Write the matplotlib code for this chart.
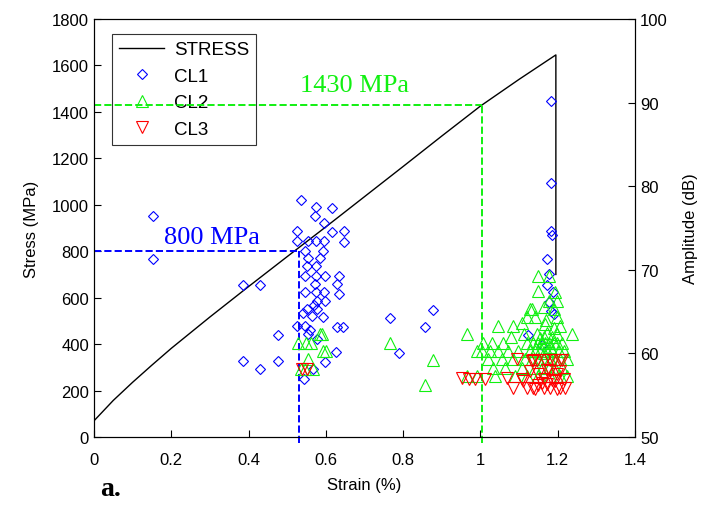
import matplotlib
matplotlib.use("Agg")
import matplotlib.pyplot as plt
from matplotlib.lines import Line2D

plt.rcParams['font.family'] = ['Liberation Sans', 'DejaVu Sans']
plt.rcParams['font.size'] = 12

# stress-strain curve (MPa vs %)
strain = [0, 0.05, 0.1, 0.15, 0.2, 0.3, 0.4, 0.5, 0.6, 0.7, 0.8, 0.9, 1.0, 1.1, 1.195, 1.195]
stress = [70, 158, 236, 310, 382, 517, 648, 777, 905, 1035, 1165, 1296, 1425, 1540, 1645, 700]

# AE hits per cluster: strain (%) and amplitude (dB)
cl1_x = [0.153, 0.153, 0.386, 0.430, 0.477, 0.386, 0.430, 0.477,
         0.535, 0.575, 0.615, 0.572, 0.595, 0.525, 0.525, 0.555, 0.575, 0.615,
         0.648, 0.648, 0.596, 0.546, 0.593, 0.555, 0.585, 0.552, 0.575, 0.546,
         0.575, 0.598, 0.635, 0.572, 0.628, 0.546, 0.575, 0.596, 0.635, 0.578,
         0.598, 0.550, 0.578, 0.563, 0.593, 0.525, 0.546, 0.628, 0.645, 0.555,
         0.576, 0.626, 0.598, 0.566, 0.543, 0.560, 0.568, 0.540,
         0.766, 0.790, 0.857, 0.876,
         1.182, 1.182, 1.183, 1.186, 1.171, 1.173, 1.187, 1.176, 1.182, 1.124,
         1.177, 1.189, 1.160]
cl1_y = [76.4, 71.3, 68.2, 68.2, 62.2, 59.1, 58.1, 59.1,
         78.4, 77.5, 77.4, 76.4, 75.6, 74.6, 73.5, 73.5, 73.4, 74.5,
         74.6, 73.3, 73.5, 72.3, 72.3, 71.4, 71.4, 70.4, 70.4, 69.3,
         69.3, 69.3, 69.3, 68.3, 68.3, 67.3, 67.3, 67.3, 67.1, 66.3,
         66.3, 65.3, 65.3, 64.5, 64.3, 63.3, 63.3, 63.2, 63.2, 62.3,
         61.7, 60.2, 59.0, 58.1, 56.9, 62.8, 65.8, 64.8,
         64.2, 60.1, 63.2, 65.2,
         90.2, 80.4, 74.6, 74.2, 71.3, 68.2, 67.3, 66.1, 65.1, 62.2,
         69.5, 64.7, 61.0]

cl2_x = [0.527, 0.549, 0.561, 0.584, 0.590, 0.592, 0.601, 0.555, 0.567, 0.546, 0.535,
         0.766, 0.876, 0.857, 0.965,
         1.046, 1.085, 1.120, 1.133, 1.107,
         1.007, 1.029, 1.059, 1.120,
         0.990, 1.003, 1.025, 1.046, 1.072, 1.098,
         1.020, 1.055, 1.085, 1.115,
         1.033, 1.064, 1.107,
         0.965, 0.990, 1.038, 1.090, 1.120, 1.112, 1.080,
         1.150, 1.176, 1.150, 1.193, 1.176, 1.197, 1.163, 1.189, 1.128, 1.197,
         1.141, 1.167, 1.206, 1.236, 1.146, 1.172, 1.197,
         1.137, 1.150, 1.159, 1.167, 1.176, 1.189, 1.197, 1.210,
         1.128, 1.141, 1.155, 1.172, 1.185, 1.202, 1.215,
         1.133, 1.150, 1.163, 1.180, 1.193, 1.206, 1.223,
         1.141, 1.159, 1.176, 1.193, 1.210, 1.223, 1.150, 1.180, 1.206,
         1.163, 1.185, 1.155, 1.180, 1.163, 1.170, 1.190]
cl2_y = [61.3, 61.3, 61.3, 62.3, 62.3, 60.3, 60.3, 59.3, 58.1, 58.1, 58.1,
         61.3, 59.2, 56.2, 62.3,
         63.3, 63.3, 64.3, 65.3, 63.7,
         61.3, 61.3, 61.3, 61.3,
         60.3, 60.3, 60.3, 60.3, 60.3, 60.3,
         59.3, 59.3, 59.3, 59.3,
         58.3, 58.3, 58.3,
         57.3, 57.3, 57.3, 57.3, 57.3, 62.3, 62.0,
         69.3, 69.3, 67.5, 67.3, 66.3, 66.3, 65.5, 65.3, 65.3, 64.3,
         64.3, 63.5, 63.3, 62.3, 62.3, 62.5, 62.3,
         61.3, 61.3, 61.3, 61.3, 61.3, 61.3, 61.3, 61.3,
         60.3, 60.3, 60.3, 60.3, 60.3, 60.3, 60.3,
         59.3, 59.3, 59.3, 59.3, 59.3, 59.3, 59.3,
         58.3, 58.3, 58.3, 58.3, 58.3, 57.3, 57.3, 57.3, 57.3,
         62.0, 62.0, 61.8, 60.8, 60.0, 64.0, 63.0]

cl3_x = [0.537, 0.550,
         0.952, 0.969, 0.986, 1.012, 1.068, 1.085, 1.107, 1.120, 1.094, 1.133,
         1.128, 1.137, 1.111, 1.137, 1.159, 1.180, 1.206, 1.180, 1.206, 1.180,
         1.206, 1.219, 1.193, 1.145, 1.167, 1.189, 1.210, 1.150, 1.163, 1.172,
         1.185, 1.197, 1.163, 1.172, 1.150, 1.141, 1.197, 1.215]
cl3_y = [58.1, 58.2,
         57.1, 56.9, 56.9, 56.9, 57.1, 55.9, 56.9, 55.9, 59.3, 59.1,
         57.9, 59.2, 56.7, 55.9, 56.5, 59.2, 59.2, 57.9, 57.9, 55.9,
         55.9, 55.9, 56.7, 59.2, 59.2, 59.2, 59.2, 57.5, 57.0, 58.0,
         56.8, 57.5, 55.9, 56.3, 56.2, 55.7, 55.8, 57.0]

# reference levels
yield_strain, yield_stress = 0.53, 800
mark_strain, mark_stress = 1.005, 1430

blue = '#0000ff'
green = '#11f011'
red = '#ff0000'

fig = plt.figure(figsize=(7.12, 5.10), dpi=100)
ax = fig.add_axes([0.132, 0.141, 0.760, 0.820])
ax2 = ax.twinx()

ax.plot(strain, stress, color='k', lw=1.0)

# dashed guide lines
ax.plot([0, yield_strain], [yield_stress, yield_stress], color=blue, ls='--', lw=1.4, zorder=6)
ax.plot([yield_strain, yield_strain], [-25, yield_stress], color=blue, ls='--', lw=1.4, zorder=6, clip_on=False)
ax.plot([0, mark_strain], [mark_stress, mark_stress], color=green, ls='--', lw=1.4, zorder=6)
ax.plot([mark_strain, mark_strain], [-25, mark_stress], color=green, ls='--', lw=1.4, zorder=6, clip_on=False)
ax.text(0.305, 860, '800 MPa', color=blue, fontsize=19, family='Liberation Serif', ha='center', va='center')
ax.text(0.675, 1515, '1430 MPa', color=green, fontsize=19, family='Liberation Serif', ha='center', va='center')

ax2.plot(cl1_x, cl1_y, ls='none', marker='D', ms=5.5, mfc='none', mec=blue, mew=0.8)
ax2.plot(cl2_x, cl2_y, ls='none', marker='^', ms=8.5, mfc='none', mec=green, mew=0.8)
ax2.plot(cl3_x, cl3_y, ls='none', marker='v', ms=8.5, mfc='none', mec=red, mew=0.8)

ax.set_xlim(0, 1.4)
ax.set_ylim(0, 1800)
ax2.set_ylim(50, 100)
ax.set_xticks([0, 0.2, 0.4, 0.6, 0.8, 1, 1.2, 1.4])
ax.set_xticklabels(['0', '0.2', '0.4', '0.6', '0.8', '1', '1.2', '1.4'])
ax.set_yticks(range(0, 1801, 200))
ax2.set_yticks(range(50, 101, 10))
ax.tick_params(direction='in', length=5, width=0.8, labelsize=12)
ax.tick_params(axis='x', pad=11)
ax2.tick_params(direction='in', length=5, width=0.8, labelsize=12)
ax.set_xlabel('Strain (%)', fontsize=12, labelpad=7)
ax.set_ylabel('Stress (MPa)', fontsize=12, labelpad=9)
ax2.set_ylabel('Amplitude (dB)', fontsize=12, labelpad=11)

handles = [Line2D([], [], color='k', lw=1.0),
           Line2D([], [], ls='none', marker='D', ms=5.5, mfc='none', mec=blue, mew=0.8),
           Line2D([], [], ls='none', marker='^', ms=8.5, mfc='none', mec=green, mew=0.8),
           Line2D([], [], ls='none', marker='v', ms=8.5, mfc='none', mec=red, mew=0.8)]
leg = ax.legend(handles, ['STRESS', 'CL1', 'CL2', 'CL3'], loc='upper left',
                bbox_to_anchor=(0.033, 0.965), borderaxespad=0, fancybox=False,
                edgecolor='#333333', facecolor='none', framealpha=1, fontsize=13.5,
                handlelength=2.4, handletextpad=0.5, borderpad=0.4, labelspacing=0.5)
leg.get_frame().set_linewidth(0.8)

fig.text(0.14, 0.028, 'a.', fontsize=20, fontweight='bold', family='Liberation Serif')

fig.savefig('out.png', dpi=100)
